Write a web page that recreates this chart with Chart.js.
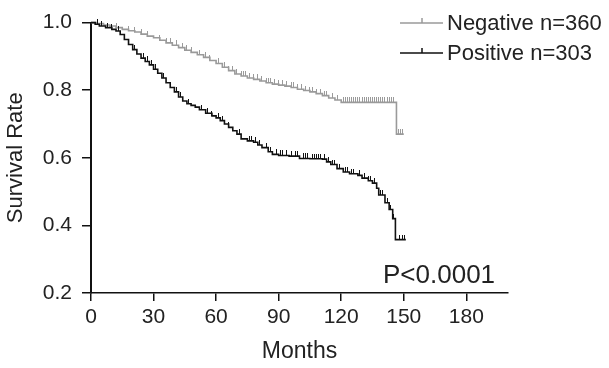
<!DOCTYPE html>
<html>
<head>
<meta charset="utf-8">
<script src="https://cdn.jsdelivr.net/npm/chart.js@4/dist/chart.umd.min.js"></script>
<style>
  html, body { margin: 0; padding: 0; background: #fff; }
  #wrap { width: 609px; height: 368px; position: relative; }
</style>
</head>
<body>
<div id="wrap"><canvas id="c" width="609" height="368"></canvas></div>
<script>
// ---- data ----
const xTicks = [0, 30, 60, 90, 120, 150, 180];
const yTicks = [0.2, 0.4, 0.6, 0.8, 1.0];

const seriesNames = ["Negative n=360", "Positive n=303"];

const negTimes = [0, 3, 6, 9, 12, 15, 18, 21, 24, 27, 30, 33, 36, 39, 42, 45, 48, 51, 54, 57, 60, 63, 66, 69, 72, 75, 78, 81, 84, 87, 90, 93, 96, 99, 102, 105, 108, 111, 114, 117, 120, 146.5, 150];
const negSurv  = [1.0, 0.997, 0.993, 0.99, 0.985, 0.98, 0.976, 0.972, 0.966, 0.96, 0.955, 0.948, 0.94, 0.933, 0.926, 0.918, 0.912, 0.905, 0.897, 0.888, 0.879, 0.868, 0.858, 0.848, 0.842, 0.836, 0.832, 0.827, 0.822, 0.818, 0.815, 0.812, 0.808, 0.803, 0.799, 0.795, 0.79, 0.784, 0.777, 0.771, 0.764, 0.67, 0.67];

const posTimes = [0, 2, 4, 7, 10, 12, 14, 16, 18, 20, 22, 24, 26, 28, 30, 32, 34, 36, 38, 40, 42, 44, 46, 48, 50, 52, 55, 58, 60, 62, 64, 66, 68, 70, 72, 75, 78, 80, 82, 85, 87, 90, 95, 100, 105, 111, 113, 115, 118, 121, 124, 128, 130, 133, 135, 137, 138, 141, 143, 144.7, 146, 151];
const posSurv  = [1.0, 0.995, 0.99, 0.985, 0.98, 0.975, 0.965, 0.95, 0.935, 0.92, 0.907, 0.895, 0.885, 0.875, 0.862, 0.85, 0.836, 0.822, 0.808, 0.795, 0.78, 0.768, 0.76, 0.755, 0.75, 0.742, 0.732, 0.724, 0.718, 0.71, 0.70, 0.69, 0.68, 0.67, 0.656, 0.65, 0.646, 0.638, 0.63, 0.618, 0.61, 0.607, 0.605, 0.598, 0.597, 0.596, 0.588, 0.58, 0.568, 0.558, 0.553, 0.548, 0.54, 0.532, 0.525, 0.51, 0.49, 0.467, 0.447, 0.42, 0.358, 0.358];

const negCensor = [12, 18, 21, 24, 27, 33, 36, 38, 41, 44, 46, 48, 52, 55, 57, 61, 64, 66, 68, 70, 72, 73, 74, 76, 78, 80, 82, 84, 85, 86, 88, 90, 92, 94, 96, 97, 99, 101, 103, 105, 106, 108, 110, 112, 113, 116, 118, 121, 122, 123, 124, 125, 126, 127, 128, 129, 130, 131, 132, 133, 134, 135, 136, 137, 138, 139, 140, 141, 142, 143, 144, 145, 147.5, 148.5, 149.5];
const posCensor = [3, 5, 8, 10, 13, 21, 25, 27, 29, 31, 35, 41, 43, 47, 53, 56, 58, 61, 63, 66, 71, 76, 77, 79, 81, 84, 86, 89, 91, 92, 94, 96, 98, 99, 102, 103, 104, 106, 107, 108, 109, 110, 112, 114, 116, 117, 119, 122, 123, 125, 126, 129, 131, 133, 134, 136, 137, 139, 140, 142, 143.5, 145, 148, 149.5, 150.5];

const pText = "P<0.0001";
const xTitle = "Months";
const yTitle = "Survival Rate";

// ---- styles ----
const FONT = "'Liberation Sans', Arial, Helvetica, sans-serif";
const TEXT = '#222';
const GRAY = '#9a9a9a';
const BLACK = '#111';

function stepAt(times, surv, t) {
  let v = surv[0];
  for (let i = 0; i < times.length; i++) { if (times[i] <= t) v = surv[i]; }
  return v;
}
function pts(times, vals) { return times.map((t, i) => ({x: t, y: vals[i]})); }
function censorPts(ct, times, surv) { return ct.map(t => ({x: t, y: stepAt(times, surv, t)})); }

function tickImage(color) {
  const cv = document.createElement('canvas');
  cv.width = 1; cv.height = 10;
  const g = cv.getContext('2d');
  g.fillStyle = color;
  g.fillRect(0, 0, 1, 5);
  return cv;
}

const overlay = {
  id: 'overlay',
  afterDraw(chart) {
    const ctx = chart.ctx;
    const ca = chart.chartArea;
    ctx.save();
    // legend
    const items = [
      {name: seriesNames[0], color: GRAY, y: 23},
      {name: seriesNames[1], color: BLACK, y: 53}
    ];
    ctx.font = '22px ' + FONT;
    ctx.textBaseline = 'middle';
    ctx.textAlign = 'left';
    items.forEach(it => {
      ctx.strokeStyle = it.color;
      ctx.lineWidth = 1.5;
      ctx.beginPath();
      ctx.moveTo(ca.right - 108, it.y);
      ctx.lineTo(ca.right - 65, it.y);
      ctx.moveTo(ca.right - 86, it.y);
      ctx.lineTo(ca.right - 86, it.y - 5);
      ctx.stroke();
      ctx.fillStyle = TEXT;
      ctx.fillText(it.name, ca.right - 61, it.y + 1);
    });
    // p value
    ctx.font = '26px ' + FONT;
    ctx.textBaseline = 'alphabetic';
    ctx.textAlign = 'left';
    ctx.fillText(pText, ca.right - 125, ca.bottom - 10);
    ctx.restore();
  }
};

new Chart(document.getElementById('c'), {
  type: 'line',
  data: {
    datasets: [
      { label: seriesNames[0], data: pts(negTimes, negSurv), borderColor: GRAY, borderWidth: 1.6, stepped: 'before', pointRadius: 0, fill: false, clip: false, order: 2 },
      { label: seriesNames[1], data: pts(posTimes, posSurv), borderColor: BLACK, borderWidth: 1.6, stepped: 'before', pointRadius: 0, fill: false, clip: false, order: 1 },
      { type: 'scatter', label: 'neg censor', data: censorPts(negCensor, negTimes, negSurv), pointStyle: tickImage(GRAY), showLine: false, clip: false, order: 2 },
      { type: 'scatter', label: 'pos censor', data: censorPts(posCensor, posTimes, posSurv), pointStyle: tickImage(BLACK), showLine: false, clip: false, order: 1 }
    ]
  },
  options: {
    responsive: false,
    animation: false,
    events: [],
    layout: { padding: { top: 15, right: 101, bottom: 0, left: 0 } },
    plugins: { legend: { display: false }, tooltip: { enabled: false } },
    scales: {
      x: {
        type: 'linear', min: 0, max: 200,
        afterBuildTicks: s => { s.ticks = xTicks.map(v => ({value: v})); },
        afterFit: s => { s.height = 75; },
        grid: { drawOnChartArea: false, drawTicks: true, tickLength: 8, color: '#111', lineWidth: 1.5 },
        border: { display: true, color: '#111', width: 1.5 },
        ticks: { padding: 4, color: TEXT, font: { family: FONT, size: 21 }, maxRotation: 0, autoSkip: false },
        title: { display: true, text: xTitle, color: TEXT, font: { family: FONT, size: 23 }, padding: { top: 0, bottom: 3 } }
      },
      y: {
        type: 'linear', min: 0.2, max: 1.0,
        afterBuildTicks: s => { s.ticks = yTicks.map(v => ({value: v})); },
        afterFit: s => { s.width = 91; },
        grid: { drawOnChartArea: false, drawTicks: true, tickLength: 9, color: '#111', lineWidth: 1.5 },
        border: { display: true, color: '#111', width: 2 },
        ticks: { padding: 10, color: TEXT, font: { family: FONT, size: 21 }, callback: v => Number(v).toFixed(1) },
        title: { display: true, text: yTitle, color: TEXT, font: { family: FONT, size: 22 }, padding: { top: 3, bottom: 0 } }
      }
    }
  },
  plugins: [overlay]
});
</script>
</body>
</html>
